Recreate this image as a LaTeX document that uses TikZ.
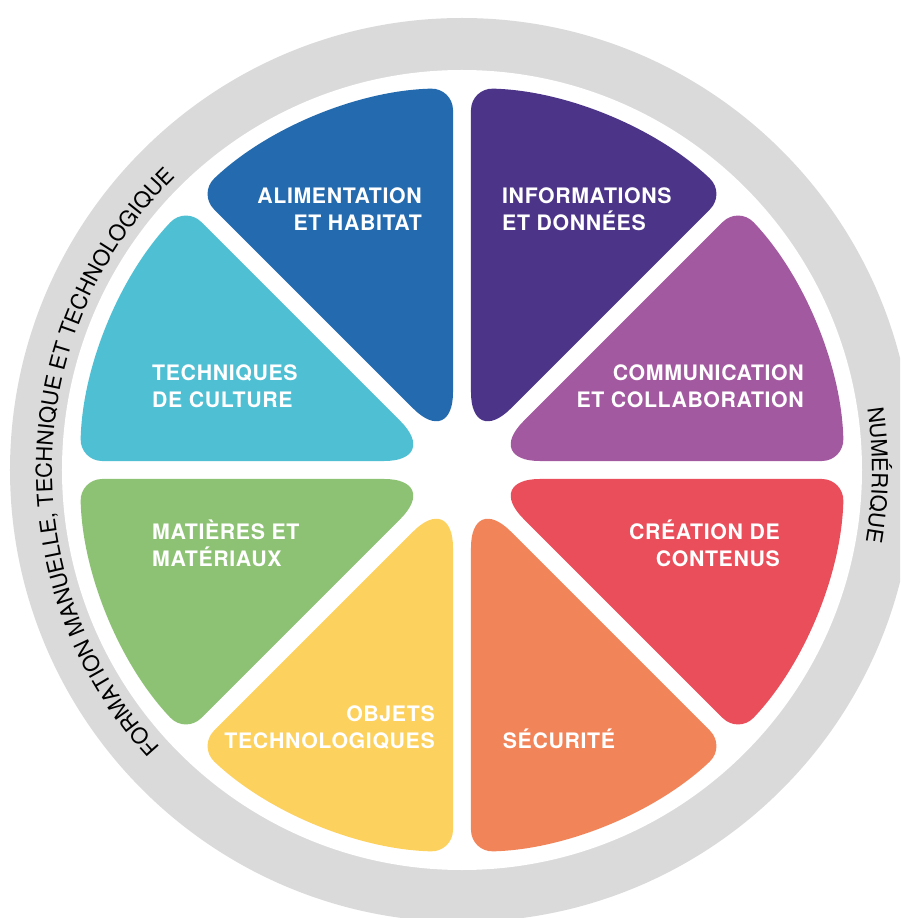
\documentclass[tikz,border=0pt]{standalone}
\usepackage{fontspec}
\setmainfont{TeX Gyre Heros}
\usepackage{tikz}
\usetikzlibrary{calc,decorations.text}
\definecolor{ringgray}{HTML}{DADADA}
\definecolor{alimcol}{HTML}{236AAF}
\definecolor{infocol}{HTML}{4C3589}
\definecolor{commcol}{HTML}{A359A0}
\definecolor{creacol}{HTML}{E94E5A}
\definecolor{secucol}{HTML}{F2845A}
\definecolor{objcol}{HTML}{FDD15E}
\definecolor{matcol}{HTML}{8DC274}
\definecolor{techcol}{HTML}{4FBFD3}
\newcommand{\ringtxt}{\fontsize{22}{26}\selectfont}
\tikzset{lbl/.style={text=white, font=\fontsize{21.3}{27}\selectfont\bfseries\addfontfeature{LetterSpace=3}, inner sep=0pt}}

\begin{document}
\begin{tikzpicture}[x=1pt,y=1pt]
        \useasboundingbox (-462,-448) rectangle (438,470);
        \clip (-462,-448) rectangle (438,470);
        \fill[ringgray] (0,0) circle[radius=452];
        \fill[white] (0,0) circle[radius=400];
        \foreach \a/\col in {0/commcol, 45/infocol, 90/alimcol, 135/techcol, 180/matcol, 225/objcol, 270/secucol, 315/creacol}
        {
        \coordinate (tip) at (\a+22.5:23.52);
        \coordinate (edge) at (\a+1.35:382);
        \fill[\col] ($(tip)!.5!(edge)$) [rounded corners=22pt] -- (edge) arc[start angle=\a+1.35, end angle=\a+43.65, radius=382] [rounded corners=56pt] -- (tip) -- cycle;
        }
        \path[decorate, decoration={text along path, text align=center,
            text={|\ringtxt|FORMATION MANUELLE, TECHNIQUE ET TECHNOLOGIQUE}}]
            (225:410) arc[start angle=225, end angle=132, radius=410];
        \path[decorate, decoration={text along path, text align=center,
            text={|\ringtxt|NUMÉRIQUE}}]
            (20:410) arc[start angle=20, end angle=-21.4, radius=410];
        \node[lbl, align=right, anchor=base east] (alimtxt) at (-40,239) {ALIMENTATION\\ET HABITAT};
        \node[lbl, align=left, anchor=base west] (infotxt) at (40,239) {INFORMATIONS\\ET DONNÉES};
        \node[lbl, align=left, anchor=base west] (techtxt) at (-310,62.3) {TECHNIQUES\\DE CULTURE};
        \node[lbl, align=right, anchor=base east] (commtxt) at (342,62.3) {COMMUNICATION\\ET COLLABORATION};
        \node[lbl, align=left, anchor=base west] (mattxt) at (-310,-96.7) {MATIÈRES ET\\MATÉRIAUX};
        \node[lbl, align=right, anchor=base east] (creatxt) at (318,-96.7) {CRÉATION DE\\CONTENUS};
        \node[lbl, align=right, anchor=base east] (objtxt) at (-27,-278.3) {OBJETS\\TECHNOLOGIQUES};
        \node[lbl, anchor=base west] (secutxt) at (40.7,-278.3) {SÉCURITÉ};
    \end{tikzpicture}
\end{document}
